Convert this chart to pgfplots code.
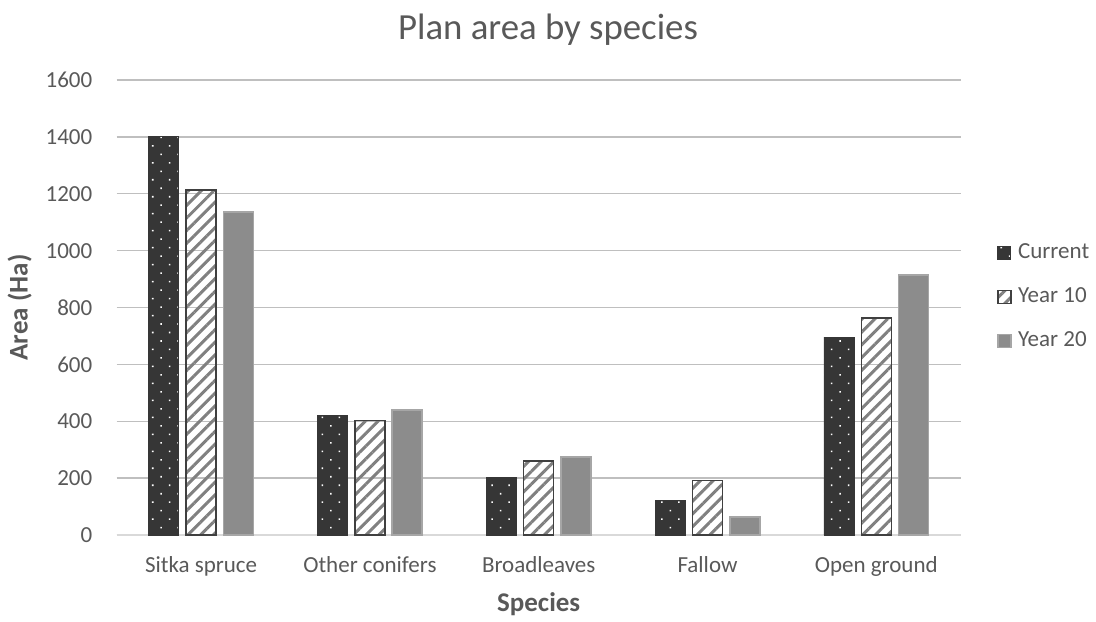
\documentclass[border=0pt]{standalone}
\usepackage{fontspec}
\setmainfont{Carlito}
\usepackage{pgfplots}
\pgfplotsset{compat=1.18}
\usetikzlibrary{patterns.meta}
\definecolor{txt}{HTML}{595959}
\definecolor{cur}{HTML}{363636}
\definecolor{yb}{HTML}{404040}
\definecolor{hatch}{HTML}{808080}
\definecolor{yt}{HTML}{8C8C8C}
\definecolor{ytb}{HTML}{A6A6A6}
\definecolor{gridc}{HTML}{BFBFBF}
\definecolor{basec}{HTML}{D9D9D9}
\pgfplotsset{sqlegend/.style={legend image code/.code={\draw[##1] (0pt,-3.25pt) rectangle (6.5pt,3.25pt);}}}
\begin{document}
\begin{tikzpicture}
\path[use as bounding box] (-58.35pt,-43pt) rectangle (489.65pt,267.5pt);
\begin{axis}[
  at={(0pt,0pt)}, anchor=south west,
  scale only axis, width=422pt, height=227.5pt,
  xmin=-0.5, xmax=4.5, ymin=0, ymax=1600,
  ytick={0,200,...,1600},
  xtick={0,1,2,3,4},
  xticklabels={Sitka spruce, Other conifers, Broadleaves, Fallow, Open ground},
  ybar, bar width=0.178,
  ymajorgrids, major grid style={gridc, line width=0.75pt},
  axis x line*=bottom, axis y line*=left,
  x axis line style={basec, line width=0.75pt, -},
  y axis line style={draw=none},
  major tick length=0pt,
  tick label style={font=\fontsize{11.5}{13}\selectfont, text=txt},
  /pgf/number format/assume math mode=true,
  /pgf/number format/1000 sep={},
  yticklabel style={xshift=-8.7pt},
  xticklabel style={yshift=-7pt},
  xlabel={Species}, ylabel={Area (Ha)},
  xlabel style={font=\fontsize{13.5}{15}\selectfont\bfseries, text=txt, at={([yshift=-34.5pt]axis description cs:0.5,0)}, anchor=center},
  ylabel style={font=\fontsize{13.5}{15}\selectfont\bfseries, text=txt, at={([xshift=-48.5pt]axis description cs:0,0.5)}, anchor=center},
  title={Plan area by species},
  title style={font=\fontsize{18.4}{20}\selectfont, text=txt, at={([xshift=215.65pt,yshift=241.5pt]axis description cs:0,0)}, anchor=base},
  legend style={at={(1.043,0.643)}, anchor=north west, draw=none, fill=none, inner sep=0pt, outer sep=0pt,
    font=\fontsize{11.5}{13}\selectfont, text=txt, row sep=11.5pt,
    nodes={inner sep=0pt, text height=8pt, text depth=2.5pt},
    /tikz/every odd column/.append style={column sep=3.3pt}},
  legend cell align=left,
]
\addplot[bar shift=-0.221, preaction={fill=cur}, draw=cur, line width=0.4pt,
  pattern={Dots[distance=6pt,angle=45,radius=0.55pt]}, pattern color=white, sqlegend]
  coordinates {(0,1400) (1,419) (2,201) (3,120) (4,696)};
\addlegendentry{Current}
\addplot[bar shift=0, draw=yb, line width=0.75pt,
  pattern={Lines[angle=45,distance=4.5pt,line width=1.5pt]}, pattern color=hatch, sqlegend]
  coordinates {(0,1213) (1,402) (2,261) (3,192) (4,763)};
\addlegendentry{Year 10}
\addplot[bar shift=0.221, fill=yt, draw=ytb, line width=0.75pt, sqlegend]
  coordinates {(0,1136) (1,440) (2,275) (3,64) (4,914)};
\addlegendentry{Year 20}
\end{axis}
\end{tikzpicture}
\end{document}
